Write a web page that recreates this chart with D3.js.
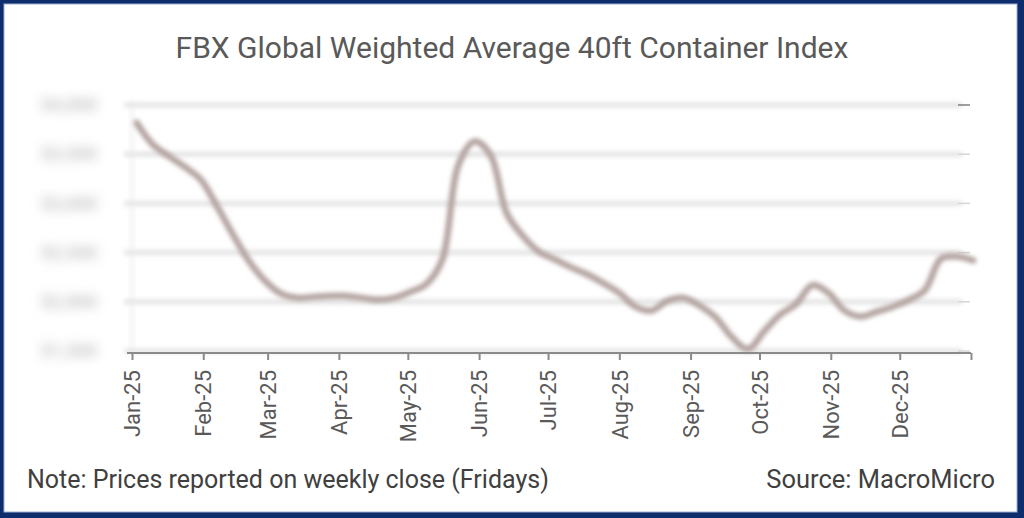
<!DOCTYPE html>
<html><head><meta charset="utf-8">
<script src="https://cdn.jsdelivr.net/npm/d3@7"></script>
<style>html,body{margin:0;padding:0;background:#0d2d6c;overflow:hidden;} svg{display:block;}</style>
</head><body>
<svg id="chart" width="1024" height="518"></svg>
<script>
// ---- data ----
const chartTitle = "FBX Global Weighted Average 40ft Container Index";
const noteText = "Note: Prices reported on weekly close (Fridays)";
const sourceText = "Source: MacroMicro";
const firstFriday = "2025-01-03";
const lastFriday = "2026-01-02";
const weeklyValues = [
  3820, 3600, 3480, 3370, 3240, 2970, 2680, 2410, 2210, 2080,
  2040, 2050, 2060, 2060, 2040, 2020, 2040, 2100, 2180, 2430,
  3390, 3630, 3490, 2900, 2670, 2510, 2430, 2350, 2280, 2190,
  2090, 1950, 1910, 2010, 2040, 1960, 1840, 1640, 1520, 1700,
  1870, 1980, 2170, 2090, 1910, 1850, 1900, 1950, 2020, 2120,
  2440, 2460, 2420
];
const yTickValues = [1500, 2000, 2500, 3000, 3500, 4000];
const monthTickDates = ["2025-01-01","2025-02-01","2025-03-01","2025-04-01","2025-05-01","2025-06-01",
  "2025-07-01","2025-08-01","2025-09-01","2025-10-01","2025-11-01","2025-12-01"];
const axisEndDate = "2026-01-01";

// ---- build ----
const parse = d3.utcParse("%Y-%m-%d");
const fridays = d3.utcFriday.range(parse(firstFriday), d3.utcDay.offset(parse(lastFriday), 1));
const series = weeklyValues.map((v, i) => ({date: fridays[i], value: v}));

const svg = d3.select("#chart");
const FONT = "Roboto, 'Noto Sans', sans-serif";

// white panel inside navy frame
svg.append("rect").attr("x", 4).attr("y", 4).attr("width", 1013).attr("height", 508)
  .attr("fill", "#fff").attr("stroke", "#9fb0d0").attr("stroke-width", 1);

const defs = svg.append("defs");
function blurFilter(id, sd) {
  defs.append("filter").attr("id", id).attr("filterUnits", "userSpaceOnUse")
    .attr("x", -300).attr("y", -200).attr("width", 1700).attr("height", 1000)
    .append("feGaussianBlur").attr("in", "SourceGraphic").attr("stdDeviation", sd);
}
blurFilter("blurHeavy", 5.5);
blurFilter("blurGrid", 2.8);
blurFilter("blurLine", 1.9);

const x = d3.scaleUtc().domain([parse(monthTickDates[0]), parse(axisEndDate)]).range([132, 971]);
const y = d3.scaleLinear().domain([1500, 4000]).range([351, 105]);

// title
svg.append("text").attr("x", 512).attr("y", 58).attr("text-anchor", "middle")
  .attr("font-family", FONT).attr("font-size", 30).attr("fill", "#595959").text(chartTitle);

// gridlines (blurred)
const grid = svg.append("g").attr("filter", "url(#blurGrid)");
grid.selectAll("line").data(yTickValues).join("line")
  .attr("x1", 124).attr("x2", 962).attr("y1", d => y(d)).attr("y2", d => y(d))
  .attr("stroke", "#d8d8d8").attr("stroke-width", 3.5);
grid.append("line").attr("x1", 132).attr("x2", 132).attr("y1", 100).attr("y2", 351)
  .attr("stroke", "#e8e8e8").attr("stroke-width", 2);

// right-edge crisp tick remnants
svg.append("g").selectAll("line").data(yTickValues).join("line")
  .attr("x1", 958).attr("x2", 970).attr("y1", d => y(d)).attr("y2", d => y(d))
  .attr("stroke", d => d === 4000 ? "#7f7f7f" : "#d6d6d6").attr("stroke-width", 1.5);

// y labels (heavily blurred, as in the reference)
const yAxisG = svg.append("g")
  .attr("transform", "translate(100,0)")
  .call(d3.axisLeft(y).tickValues(yTickValues).tickSize(0).tickFormat(d3.format("$,")));
yAxisG.attr("filter", "url(#blurHeavy)");
yAxisG.select(".domain").remove();
yAxisG.selectAll("text").attr("font-family", FONT).attr("font-size", 18).attr("font-weight", 700).attr("fill", "#c4c4c4");

// line (blurred)
const lineGen = d3.line().x(d => x(d.date)).y(d => y(d.value)).curve(d3.curveCatmullRom.alpha(0.5));
svg.append("path").datum(series).attr("d", lineGen)
  .attr("fill", "none").attr("stroke", "#b4a4a0").attr("stroke-width", 6.5)
  .attr("stroke-linejoin", "round").attr("stroke-linecap", "round")
  .attr("filter", "url(#blurLine)");

// x axis
const xTicks = monthTickDates.map(parse).concat([parse(axisEndDate)]);
const xAxisG = svg.append("g").attr("transform", "translate(0,353)")
  .call(d3.axisBottom(x).tickValues(xTicks).tickSize(7).tickSizeOuter(0)
    .tickFormat(d => d.getTime() === parse(axisEndDate).getTime() ? "" : d3.utcFormat("%b-%y")(d)));
xAxisG.select(".domain").attr("stroke", "#8a8a8a").attr("stroke-width", 2.2)
  .attr("d", `M127,0H${x(parse(axisEndDate))}`);
xAxisG.selectAll(".tick line").attr("stroke", "#8a8a8a").attr("stroke-width", 2);
xAxisG.selectAll(".tick text")
  .attr("font-family", FONT).attr("font-size", 22).attr("fill", "#595959")
  .attr("text-anchor", "end").attr("transform", "rotate(-90)")
  .attr("x", -17).attr("y", 0).attr("dy", "0.35em");

// footer
svg.append("text").attr("x", 27).attr("y", 488).attr("font-family", FONT).attr("font-size", 25)
  .attr("fill", "#404040").text(noteText);
svg.append("text").attr("x", 995).attr("y", 488).attr("text-anchor", "end").attr("font-family", FONT)
  .attr("font-size", 25.5).attr("fill", "#404040").text(sourceText);
</script>
</body></html>
